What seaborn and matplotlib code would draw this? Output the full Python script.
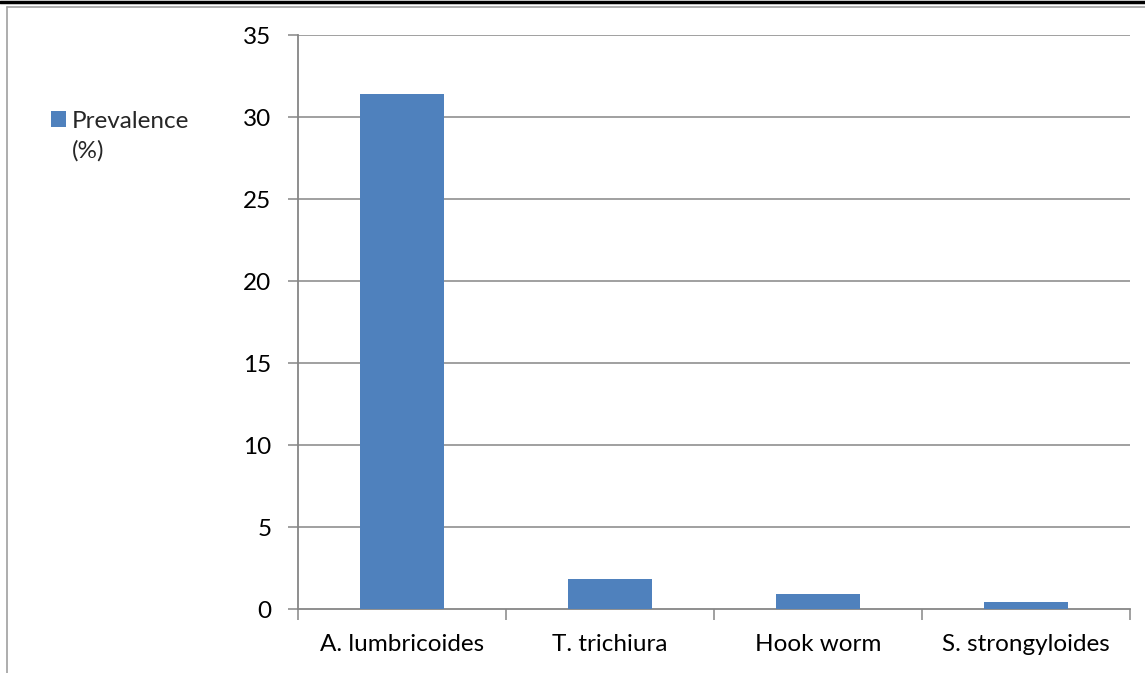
import matplotlib
matplotlib.use("Agg")
import matplotlib.pyplot as plt
import seaborn as sns
from matplotlib.lines import Line2D
from matplotlib.patches import Patch

categories = ["A. lumbricoides", "T. trichiura", "Hook worm", "S. strongyloides"]
prevalence = [31.4, 1.8, 0.9, 0.45]
y_ticks = [0, 5, 10, 15, 20, 25, 30, 35]
series_label = ["Prevalence", "(%)"]

sns.set_theme(style="white")
plt.rcParams['font.family'] = ['Lato', 'DejaVu Sans']

W, H = 1145, 673
fig = plt.figure(figsize=(W / 100, H / 100), dpi=100)
ax = fig.add_axes([298 / W, (H - 609) / H, (1130 - 298) / W, (609 - 35) / H])

bar_color = "#4F81BD"
sns.barplot(x=categories, y=prevalence, color=bar_color, width=0.4, ax=ax,
            saturation=1, edgecolor="none", zorder=3)

grid_c = "#868686"
FS = 17.5
ax.set_ylim(0, 35)
ax.set_xlim(-0.5, len(categories) - 0.5)
ax.set_yticks(y_ticks)
ax.set_yticklabels([str(t) for t in y_ticks], fontsize=FS, color="black")
ax.set_xticks(range(len(categories)))
ax.set_xticklabels(categories, fontsize=FS, color="black")
ax.set_xlabel("")
ax.set_ylabel("")
for t in y_ticks[1:]:
    ax.axhline(t, color=grid_c, lw=1.1, zorder=1)

for s in ["top", "right"]:
    ax.spines[s].set_visible(False)
for s in ["left", "bottom"]:
    ax.spines[s].set_color(grid_c)
    ax.spines[s].set_linewidth(1.3)

ax.tick_params(axis="y", which="both", length=7, color=grid_c, width=1.1, pad=12, direction="out", left=True)
ax.tick_params(axis="x", which="major", length=0, pad=18)
ax.set_xticks([i - 0.5 for i in range(len(categories) + 1)], minor=True)
ax.tick_params(axis="x", which="minor", length=8, color=grid_c, width=1.1, direction="out", bottom=True)

handles = [Patch(facecolor=bar_color, edgecolor="none"), Patch(facecolor="none", edgecolor="none")]
fig.legend(handles, series_label, loc="upper left", bbox_to_anchor=(41 / W, 1 - 101 / H),
           frameon=False, fontsize=FS, handlelength=0.62, handleheight=0.62,
           handletextpad=0.25, borderaxespad=0, labelspacing=0.36)

fig.add_artist(Line2D([0, 1], [1 - 2 / H, 1 - 2 / H], color="black", lw=2.5, transform=fig.transFigure))
fig.add_artist(Line2D([7 / W, 1], [1 - 7 / H, 1 - 7 / H], color="#A0A0A0", lw=1.2, transform=fig.transFigure))
fig.add_artist(Line2D([7 / W, 7 / W], [0, 1 - 7 / H], color="#A0A0A0", lw=1.2, transform=fig.transFigure))

fig.savefig("out.png", dpi=100)
